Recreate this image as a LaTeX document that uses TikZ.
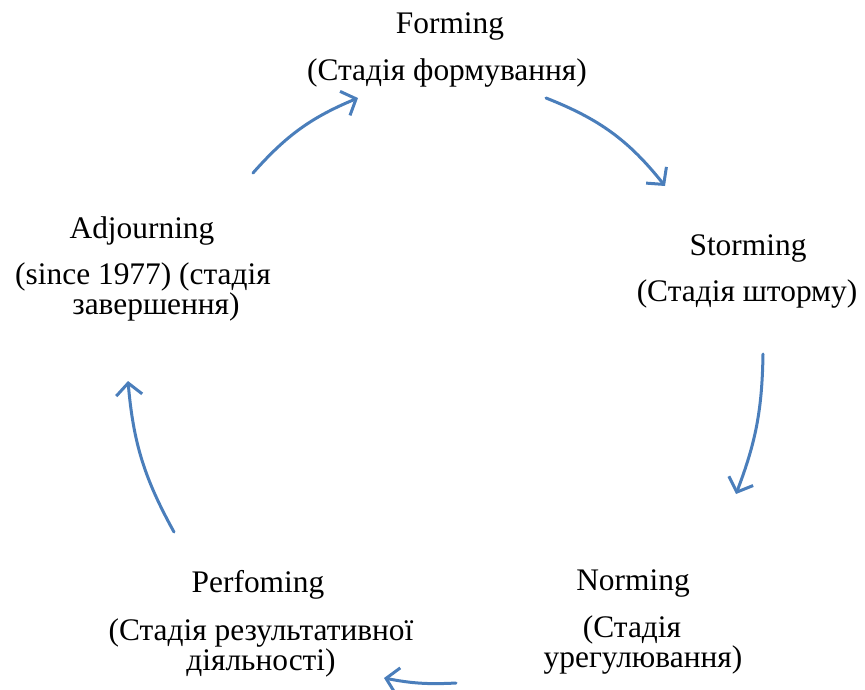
\documentclass[tikz,border=0pt]{standalone}
\usepackage{fontspec}
\setmainfont{Liberation Serif}
\usetikzlibrary{arrows.meta}
\definecolor{arcblue}{RGB}{74,126,187}
\begin{document}
\begin{tikzpicture}[x=1pt,y=-1pt,
  lbl/.style={anchor=base, inner sep=0pt, align=center, font=\fontsize{31.4}{28}\selectfont},
  cyc/.style={draw=arcblue, line width=3pt, line cap=round,
    -{Straight Barb[length=12pt,width=26pt,line width=3pt]}}]
\useasboundingbox (0,0) rectangle (865,689);
% labels (multi-line nodes: base = baseline of last line)
\node[lbl] (f1) at (450,33) {Forming};
\node[lbl] (f2) at (447,80) {(Стадія формування)};
\node[lbl] (s1) at (748,255) {Storming};
\node[lbl] (s2) at (747,301) {(Стадія шторму)};
\node[lbl] (n1) at (633,590) {Norming};
\node[lbl] (n2) at (643,667) {(Стадія\hspace*{22pt}\\урегулювання)};
\node[lbl] (p1) at (258,592) {Perfoming};
\node[lbl] (p2) at (261,670) {(Стадія результативної\\діяльності)};
\node[lbl] (a1) at (142,238) {Adjourning};
\node[lbl] (a2) at (143,314) {(since 1977) (стадія\\\hspace*{26pt}завершення)};
% arrow ends
\coordinate (c1s) at (546,98);  \coordinate (c1e) at (665,186);
\coordinate (c2s) at (763,354); \coordinate (c2e) at (736,494);
\coordinate (c3s) at (456,683); \coordinate (c3e) at (384,678);
\coordinate (c4s) at (174,532); \coordinate (c4e) at (128,381);
\coordinate (c5s) at (253,173); \coordinate (c5e) at (358,98);
\draw[cyc] (c1s) to[bend left=15] (c1e);
\draw[cyc] (c2s) to[bend left=10] (c2e);
\draw[cyc] (c3s) to[bend left=7] (c3e);
\draw[cyc] (c4s) to[bend left=12] (c4e);
\draw[cyc] (c5s) to[bend left=13] (c5e);
\end{tikzpicture}
\end{document}
